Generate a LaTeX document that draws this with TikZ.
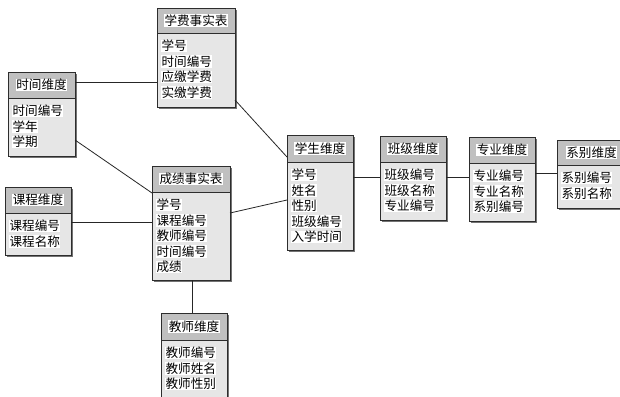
\documentclass[tikz,border=0pt]{standalone}
\usepackage{fontspec}
\setmainfont{Noto Sans CJK SC}
\usetikzlibrary{calc,shadows}
\definecolor{hdr}{RGB}{192,192,192}
\definecolor{bdy}{RGB}{230,230,230}
\definecolor{edge}{RGB}{45,45,45}
\newcommand{\wl}[1]{{\setlength{\fboxsep}{0.4pt}\colorbox{white}{#1}}}
\newcommand{\tablebox}[8]{%
  \node[boxbody, minimum width={#4pt-#2pt}, minimum height={#6pt-#3pt}] (#1) at (#2,#3) {};
  \node[hdrbox, minimum width={#4pt-#2pt}, minimum height={#5pt-#3pt}] (#1h) at (#2,#3) {};
  \node[txt] (#1t) at (#1h.center) {\wl{#7}};
  \node[txt, anchor=north west, align=left] (#1b) at ($(#1h.south west)+(4,6.5)$) {#8};
}
\tikzset{
  boxbody/.style={draw=edge, line width=0.9pt, fill=bdy, anchor=north west, inner sep=0pt, outer sep=0pt,
    drop shadow={shadow xshift=1.6pt, shadow yshift=-1.6pt, fill=black!55, opacity=1}},
  hdrbox/.style={draw=edge, line width=0.9pt, fill=hdr, anchor=north west, inner sep=0pt, outer sep=0pt},
  txt/.style={inner sep=0pt, font=\fontsize{12.6}{15.5}\selectfont, text=black},
  link/.style={draw=black!85, line width=0.8pt}
}
\begin{document}
\begin{tikzpicture}[x=1pt,y=-1pt]
\useasboundingbox (0,0) rectangle (620,396);
\clip (0,0) rectangle (620,396);
\fill[white] (0,0) rectangle (620,396);
\tablebox{fee}{157}{8}{235}{33}{107}{学费事实表}{\wl{学号}\\\wl{时间编号}\\\wl{应缴学费}\\\wl{实缴学费}}
\tablebox{time}{8}{72}{75}{98}{156}{时间维度}{\wl{时间编号}\\\wl{学年}\\\wl{学期}}
\tablebox{stu}{287}{135}{353}{162}{250}{学生维度}{\wl{学号}\\\wl{姓名}\\\wl{性别}\\\wl{班级编号}\\\wl{入学时间}}
\tablebox{cls}{380}{136}{446}{162}{220}{班级维度}{\wl{班级编号}\\\wl{班级名称}\\\wl{专业编号}}
\tablebox{maj}{469}{137}{535}{163}{221}{专业维度}{\wl{专业编号}\\\wl{专业名称}\\\wl{系别编号}}
\tablebox{dep}{557}{140}{626}{165}{208}{系别维度}{\wl{系别编号}\\\wl{系别名称}}
\tablebox{score}{152}{166}{230}{192}{280}{成绩事实表}{\wl{学号}\\\wl{课程编号}\\\wl{教师编号}\\\wl{时间编号}\\\wl{成绩}}
\tablebox{course}{5}{187}{71}{213}{255}{课程维度}{\wl{课程编号}\\\wl{课程名称}}
\tablebox{tea}{161}{313}{227}{340}{402}{教师维度}{\wl{教师编号}\\\wl{教师姓名}\\\wl{教师性别}}
% connectors
\draw[link] ($(time.north east)+(0,10)$) -- ($(fee.north west)+(0,74)$);
\draw[link] ($(time.north east)+(0,68)$) -- ($(score.north west)+(0,27)$);
\draw[link] ($(fee.north east)+(0,92)$) -- ($(stu.north west)+(0,22)$);
\draw[link] ($(course.north east)+(0,35)$) -- ($(score.north west)+(0,56)$);
\draw[link] ($(score.north east)+(0,47)$) -- ($(stu.north west)+(0,65)$);
\draw[link] ($(score.south west)+(40,0)$) -- ($(tea.north west)+(31,0)$);
\draw[link] ($(stu.north east)+(0,42)$) -- ($(cls.north west)+(0,41)$);
\draw[link] ($(cls.north east)+(0,41)$) -- ($(maj.north west)+(0,40)$);
\draw[link] ($(maj.north east)+(0,36)$) -- ($(dep.north west)+(0,33)$);
\end{tikzpicture}
\end{document}
